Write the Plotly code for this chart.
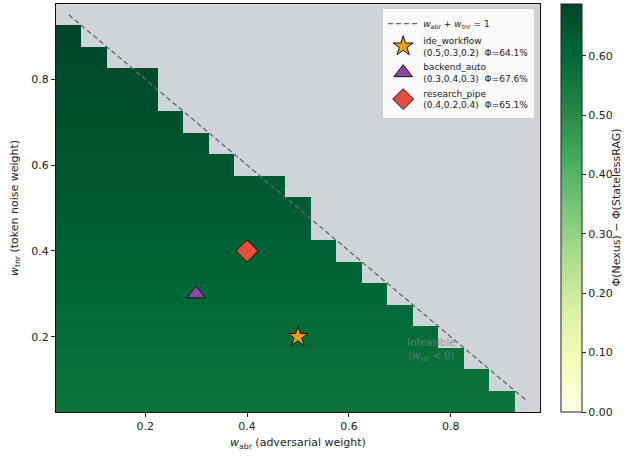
import plotly.graph_objects as go

# grid centres (w_abr columns, w_tnr rows)
w_abr = [0.05, 0.10, 0.15, 0.20, 0.25, 0.30, 0.35, 0.40, 0.45, 0.50,
         0.55, 0.60, 0.65, 0.70, 0.75, 0.80, 0.85, 0.90, 0.95]
w_tnr = [0.05, 0.10, 0.15, 0.20, 0.25, 0.30, 0.35, 0.40, 0.45, 0.50,
         0.55, 0.60, 0.65, 0.70, 0.75, 0.80, 0.85, 0.90, 0.95]
# highest feasible w_tnr in each w_abr column (None = no feasible cell)
max_tnr = [0.90, 0.85, 0.80, 0.80, 0.70, 0.65, 0.60, 0.55, 0.55, 0.50,
           0.40, 0.35, 0.30, 0.25, 0.20, 0.15, 0.10, 0.05, None]
# Phi gap per w_tnr row
row_gap = [0.566, 0.574, 0.582, 0.589, 0.597, 0.604, 0.611, 0.618, 0.625,
           0.632, 0.639, 0.645, 0.652, 0.658, 0.664, 0.670, 0.676, 0.687, 0.690]

scen_names = ["ide_workflow", "backend_auto", "research_pipe"]
scen_abr = [0.5, 0.3, 0.4]
scen_tnr = [0.2, 0.3, 0.4]
scen_labels = ["(0.5,0.3,0.2)", "(0.3,0.4,0.3)", "(0.4,0.2,0.4)"]
scen_phi = [64.1, 67.6, 65.1]
scen_symbols = ["star", "triangle-up", "diamond"]
scen_colors = ["#f39c12", "#8e44ad", "#e74c3c"]
scen_sizes = [15, 16, 17]

z = []
for j, t in enumerate(w_tnr):
    row = []
    for i, a in enumerate(w_abr):
        m = max_tnr[i]
        row.append(row_gap[j] if (m is not None and t <= m + 1e-9) else None)
    z.append(row)

ylgn = [[0.0, "#ffffe5"], [0.125, "#f7fcb9"], [0.25, "#d9f0a3"], [0.375, "#addd8e"],
        [0.5, "#78c679"], [0.625, "#41ab5d"], [0.75, "#238443"], [0.875, "#006837"],
        [1.0, "#004529"]]

fig = go.Figure()
fig.add_trace(go.Heatmap(
    x=w_abr, y=w_tnr, z=z, zmin=0, zmax=0.687, colorscale=ylgn,
    showscale=True, hoverongaps=False,
    colorbar=dict(x=1.043, xanchor="left", xpad=0, ypad=0, y=0.5, yanchor="middle",
                  len=1.0, lenmode="fraction",
                  thickness=21, outlinewidth=1, outlinecolor="#222",
                  tickvals=[0, 0.1, 0.2, 0.3, 0.4, 0.5, 0.6], tickformat=".2f",
                  ticks="outside", ticklen=4, tickcolor="#222",
                  tickfont=dict(size=11, color="#222")),
    showlegend=False))

fig.add_trace(go.Scatter(
    x=[0.05, 0.95], y=[0.95, 0.05], mode="lines",
    line=dict(color="#666666", width=1.3, dash="5px,3px"),
    name="<i>w</i><sub>abr</sub> + <i>w</i><sub>tnr</sub> = 1"))

for k in range(3):
    fig.add_trace(go.Scatter(
        x=[scen_abr[k]], y=[scen_tnr[k]], mode="markers",
        marker=dict(symbol=scen_symbols[k], color=scen_colors[k], size=scen_sizes[k],
                    line=dict(color="#111", width=1)),
        name=f"{scen_names[k]}<br>{scen_labels[k]}  Φ={scen_phi[k]:.1f}%"))

fig.add_annotation(x=0.762, y=0.17, xref="x", yref="y", showarrow=False,
                   text="Infeasible<br>(<i>w</i><sub>lat</sub> < 0)",
                   font=dict(size=10, color="rgba(130,130,130,0.75)"), align="center")

fig.add_annotation(x=1.156, y=0.5, xref="paper", yref="paper", showarrow=False,
                   xanchor="center", yanchor="middle",
                   text="Φ(Nexus) − Φ(StatelessRAG)", textangle=-90,
                   font=dict(size=11, color="#222"))

axis_common = dict(showgrid=False, zeroline=False, showline=True, linecolor="#111",
                   linewidth=1, mirror=True, ticks="outside", ticklen=4,
                   tickcolor="#222", tickfont=dict(size=11, color="#222"),
                   tickvals=[0.2, 0.4, 0.6, 0.8], tickformat=".1f")
fig.update_xaxes(range=[0.025, 0.975], title=dict(
    text="<i>w</i><sub>abr</sub> (adversarial weight)", font=dict(size=11, color="#222"),
    standoff=6), **axis_common)
fig.update_yaxes(range=[0.025, 0.975], title=dict(
    text="<i>w</i><sub>tnr</sub> (token noise weight)", font=dict(size=11, color="#222"),
    standoff=10), **axis_common)

fig.update_layout(
    width=634, height=458, margin=dict(l=56, r=94, t=4, b=46, autoexpand=False),
    paper_bgcolor="white", plot_bgcolor="#d0d3d7",
    font=dict(family="DejaVu Sans", color="#222"),
    legend=dict(x=0.99, y=0.99, xanchor="right", yanchor="top",
                bgcolor="rgba(255,255,255,0.88)", bordercolor="#cccccc", borderwidth=1,
                font=dict(size=9, color="#222"), tracegroupgap=0,
                itemwidth=30))

fig.write_html("out.html", config={"displayModeBar": False},
               post_script="document.body.style.margin='0';")
